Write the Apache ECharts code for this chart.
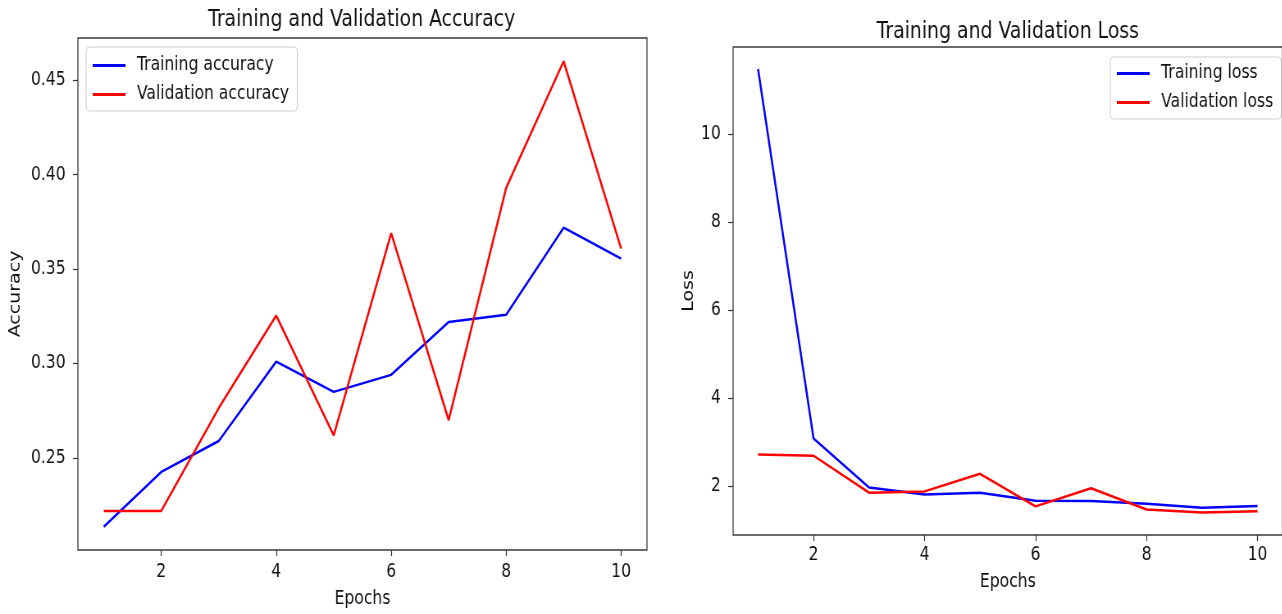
<!DOCTYPE html>
<html>
<head>
<meta charset="utf-8">
<script src="https://cdn.jsdelivr.net/npm/echarts@6/dist/echarts.min.js"></script>
<style>
  html, body { margin: 0; padding: 0; background: #fff; overflow: hidden; }
  /* the reference figure is squeezed horizontally, so draw wider and scale down */
  #main { width: 1564px; height: 614px; transform: scaleX(0.82); transform-origin: 0 0; }
</style>
</head>
<body>
<div id="main"></div>
<script>
// epochs
const epochs = [1, 2, 3, 4, 5, 6, 7, 8, 9, 10]
// accuracy per epoch
const trainAcc = [0.2136, 0.2426, 0.2590, 0.3010, 0.2850, 0.2940, 0.3220, 0.3258, 0.3719, 0.3555]
const valAcc = [0.2220, 0.2220, 0.2764, 0.3254, 0.2620, 0.3690, 0.2700, 0.3930, 0.4600, 0.3608]
// loss per epoch
const trainLoss = [11.48, 3.09, 1.98, 1.82, 1.86, 1.68, 1.67, 1.61, 1.52, 1.56]
const valLoss = [2.73, 2.70, 1.86, 1.89, 2.29, 1.55, 1.96, 1.48, 1.41, 1.44]
// tick labels
const xTicks = [2, 4, 6, 8, 10]
const accTicks = [0.25, 0.30, 0.35, 0.40, 0.45]
const lossTicks = [2, 4, 6, 8, 10]

const FONT = 'DejaVu Sans'
const pairs = (ys) => epochs.map((e, i) => [e, ys[i]])

const chart = echarts.init(document.getElementById('main'))

const axisCommon = {
    axisLine: {show: false},
    axisTick: {show: true, length: 6, lineStyle: {color: '#333', width: 1.2}},
    splitLine: {show: false},
    nameLocation: 'middle',
    nameTextStyle: {fontFamily: FONT, fontSize: 19, color: '#111'}
}

const xAxis = (idx, margin, gap) => Object.assign({}, axisCommon, {
    type: 'value',
    gridIndex: idx,
    min: 0.55,
    max: 10.45,
    name: 'Epochs',
    nameGap: gap,
    axisTick: Object.assign({}, axisCommon.axisTick, {customValues: xTicks}),
    axisLabel: {customValues: xTicks, margin: margin, fontFamily: FONT, fontSize: 19, color: '#111'}
})

const legend = (left, top, padTop) => ({
    orient: 'vertical',
    left: left,
    top: top,
    icon: 'rect',
    itemWidth: 40,
    itemHeight: 3,
    itemGap: 10,
    padding: [padTop, 10, 7, 8],
    backgroundColor: '#fff',
    borderColor: '#cccccc',
    borderWidth: 1,
    borderRadius: 4,
    textStyle: {fontFamily: FONT, fontSize: 19, color: '#111', padding: [0, 0, 0, 9]}
})

chart.setOption({
    animation: false,
    title: [
        {
            text: 'Training and Validation Accuracy',
            left: 441, top: 9, textAlign: 'center', padding: 0,
            textStyle: {fontFamily: FONT, fontSize: 23, fontWeight: 'normal', color: '#111'}
        },
        {
            text: 'Training and Validation Loss',
            left: 1229, top: 21, textAlign: 'center', padding: 0,
            textStyle: {fontFamily: FONT, fontSize: 23, fontWeight: 'normal', color: '#111'}
        }
    ],
    grid: [
        {left: 95, top: 38, width: 694, height: 514, show: true, borderColor: '#3a3a3a', borderWidth: 1.3},
        {left: 894, top: 47, right: -2, height: 488, show: true, borderColor: '#3a3a3a', borderWidth: 1.3}
    ],
    legend: [
        Object.assign(legend(105, 47, 9), {data: ['Training accuracy', 'Validation accuracy']}),
        Object.assign(legend(1354, 57, 7), {data: ['Training loss', 'Validation loss']})
    ],
    xAxis: [xAxis(0, 13, 40), xAxis(1, 11, 38)],
    yAxis: [
        Object.assign({}, axisCommon, {
            type: 'value',
            gridIndex: 0,
            min: 0.2013,
            max: 0.4723,
            name: 'Accuracy',
            nameGap: 66,
            axisTick: Object.assign({}, axisCommon.axisTick, {customValues: accTicks}),
            axisLabel: {
                customValues: accTicks, margin: 15, fontFamily: FONT, fontSize: 19, color: '#111',
                formatter: (v) => v.toFixed(2)
            }
        }),
        Object.assign({}, axisCommon, {
            type: 'value',
            gridIndex: 1,
            min: 0.9,
            max: 11.98,
            name: 'Loss',
            nameGap: 44,
            axisTick: Object.assign({}, axisCommon.axisTick, {customValues: lossTicks}),
            axisLabel: {customValues: lossTicks, margin: 15, fontFamily: FONT, fontSize: 19, color: '#111'}
        })
    ],
    series: [
        {name: 'Training accuracy', type: 'line', xAxisIndex: 0, yAxisIndex: 0, data: pairs(trainAcc),
            symbol: 'none', color: '#0000ff', lineStyle: {width: 2.5}},
        {name: 'Validation accuracy', type: 'line', xAxisIndex: 0, yAxisIndex: 0, data: pairs(valAcc),
            symbol: 'none', color: '#ff0000', lineStyle: {width: 2.5}},
        {name: 'Training loss', type: 'line', xAxisIndex: 1, yAxisIndex: 1, data: pairs(trainLoss),
            symbol: 'none', color: '#0000ff', lineStyle: {width: 2.5}},
        {name: 'Validation loss', type: 'line', xAxisIndex: 1, yAxisIndex: 1, data: pairs(valLoss),
            symbol: 'none', color: '#ff0000', lineStyle: {width: 2.5}}
    ]
})
</script>
</body>
</html>
